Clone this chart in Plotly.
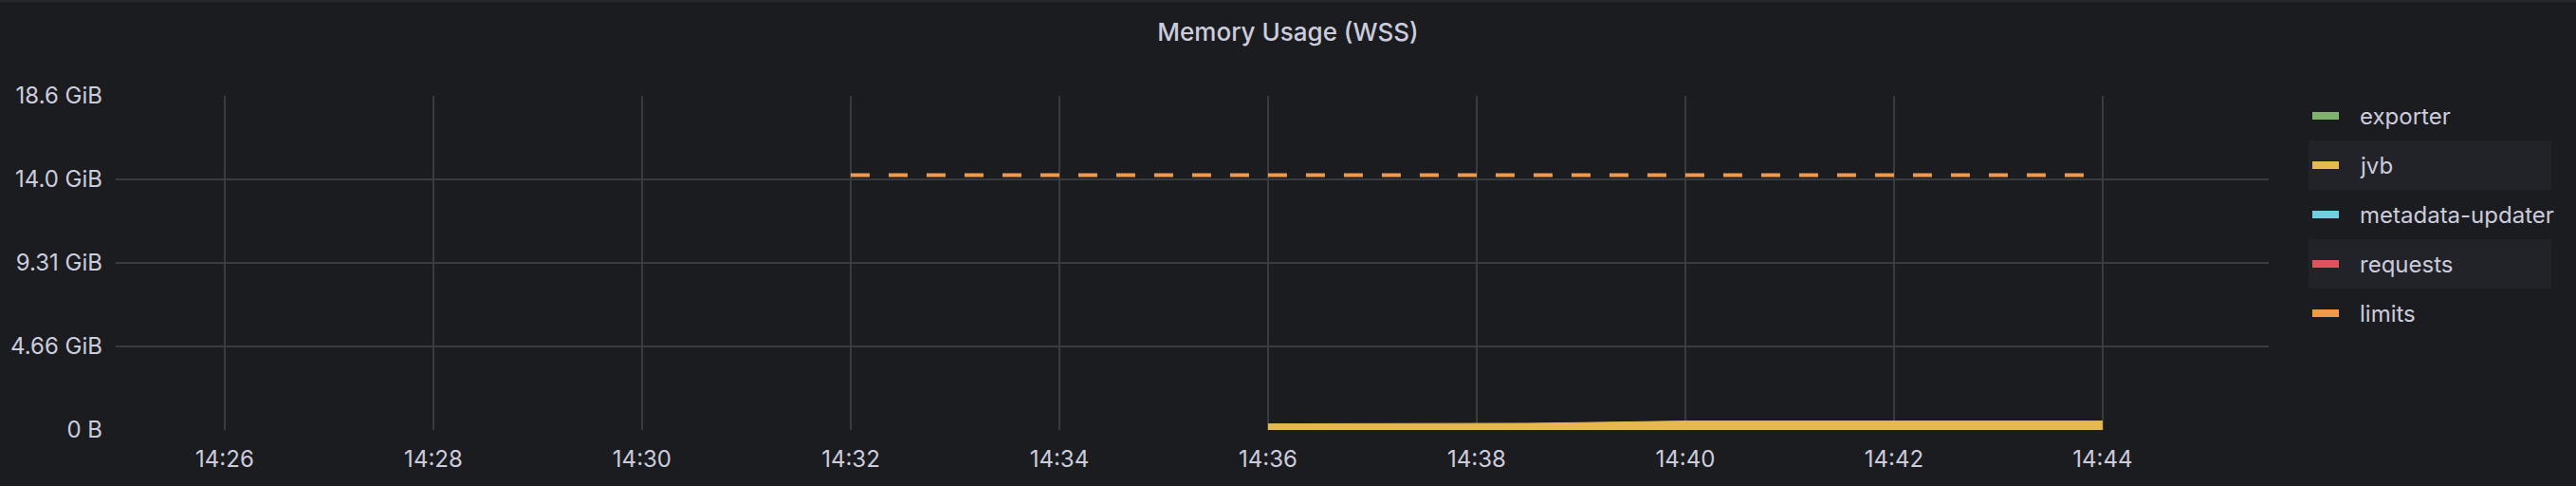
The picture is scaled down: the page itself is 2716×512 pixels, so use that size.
import plotly.graph_objects as go

DAY = "2024-01-01 "

# ---- data ----
series_names = ["exporter", "jvb", "metadata-updater", "requests", "limits"]
series_colors = ["#7EB26D", "#E5B94E", "#6ED0E0", "#E0525C", "#F0994A"]

jvb_times = ["14:36:00", "14:37:00", "14:38:00", "14:38:30", "14:39:00", "14:39:30",
             "14:39:45", "14:40:00", "14:41:00", "14:42:00", "14:43:00", "14:44:00"]
jvb_bytes = [0.364e9, 0.364e9, 0.366e9, 0.40e9, 0.44e9, 0.48e9,
             0.53e9, 0.535e9, 0.535e9, 0.535e9, 0.535e9, 0.535e9]

limit_times = ["14:32:00", "14:33:00", "14:34:00", "14:35:00", "14:36:00", "14:37:00", "14:38:00",
               "14:39:00", "14:40:00", "14:41:00", "14:42:00", "14:43:00", "14:44:00"]
limit_bytes = [15.25e9, 15.25e9, 15.25e9, 15.25e9, 15.25e9, 15.25e9, 15.25e9,
               15.25e9, 15.25e9, 15.25e9, 15.25e9, 15.25e9, 15.25e9]

y_tick_vals = [0, 5e9, 10e9, 15e9, 20e9]
y_tick_text = ["0 B", "4.66 GiB", "9.31 GiB", "14.0 GiB", "18.6 GiB"]

x_tick_times = ["14:26", "14:28", "14:30", "14:32", "14:34", "14:36", "14:38", "14:40", "14:42", "14:44"]
x_range = ["14:24:57.3", "14:45:35.5"]

TEXT = "#ccccdc"
BG = "#1b1c20"
GRID = "#3a3b40"
ROW_BG = "#222329"

# layout geometry (pixels)
W, H = 2716, 512
ML, MR, MT, MB = 122, 324, 101, 59
PW, PH = W - ML - MR, H - MT - MB


def px_x(p):
    return (p - ML) / PW


def px_y(p):
    return (H - MB - p) / PH


fig = go.Figure()

# data traces
fig.add_trace(go.Scatter(
    x=[DAY + t for t in jvb_times], y=jvb_bytes, mode="lines",
    line=dict(color=series_colors[1], width=1), fill="tozeroy",
    fillcolor=series_colors[1], showlegend=False, name="jvb"))
fig.add_trace(go.Scatter(
    x=[DAY + t for t in limit_times], y=limit_bytes, mode="lines",
    line=dict(color=series_colors[4], width=4, dash="20px,20px"),
    showlegend=False, name="limits"))

# legend (Grafana style list on the right)
ROW0, ROW_STEP = 122, 52
for i, (n, c) in enumerate(zip(series_names, series_colors)):
    cy = ROW0 + ROW_STEP * i
    if i % 2 == 1:
        fig.add_shape(type="rect", xref="paper", yref="paper",
                      x0=px_x(2434), x1=px_x(2690), y0=px_y(cy + 26), y1=px_y(cy - 26),
                      fillcolor=ROW_BG, line=dict(width=0), layer="below")
    fig.add_shape(type="rect", xref="paper", yref="paper",
                  x0=px_x(2438), x1=px_x(2466), y0=px_y(cy + 4), y1=px_y(cy - 4),
                  fillcolor=c, line=dict(width=0))
    fig.add_annotation(text=n, xref="paper", yref="paper", x=px_x(2486), y=px_y(cy),
                       xanchor="left", yanchor="middle", showarrow=False,
                       font=dict(size=24, color=TEXT))

# panel top border
fig.add_shape(type="rect", xref="paper", yref="paper", x0=px_x(0), x1=px_x(W),
              y0=px_y(2.5), y1=px_y(-2), fillcolor="#26272c",
              line=dict(width=0), layer="below")

fig.update_layout(
    width=W, height=H,
    paper_bgcolor=BG, plot_bgcolor=BG,
    margin=dict(l=ML, r=MR, t=MT, b=MB),
    font=dict(family="Inter", size=24, color=TEXT),
    showlegend=False,
    title=dict(text="Memory Usage (WSS)", x=0.5, xanchor="center", y=1 - 34 / H,
               yanchor="middle", font=dict(size=26, color=TEXT, weight=500)),
    xaxis=dict(type="date", range=[DAY + x_range[0], DAY + x_range[1]],
               tickvals=[DAY + t for t in x_tick_times], ticktext=x_tick_times,
               showgrid=True, gridcolor=GRID, gridwidth=2, zeroline=False,
               showline=False, ticks="", ticklabelstandoff=14,
               tickfont=dict(size=24, color=TEXT)),
    yaxis=dict(range=[0, 20e9], tickvals=y_tick_vals, ticktext=y_tick_text,
               showgrid=True, gridcolor=GRID, gridwidth=2, zeroline=False,
               showline=False, ticks="", ticklabelstandoff=13,
               tickfont=dict(size=24, color=TEXT)),
)

fig.write_html("out.html", config={"displayModeBar": False},
               post_script="document.body.style.margin='0';document.body.style.overflow='hidden';")
